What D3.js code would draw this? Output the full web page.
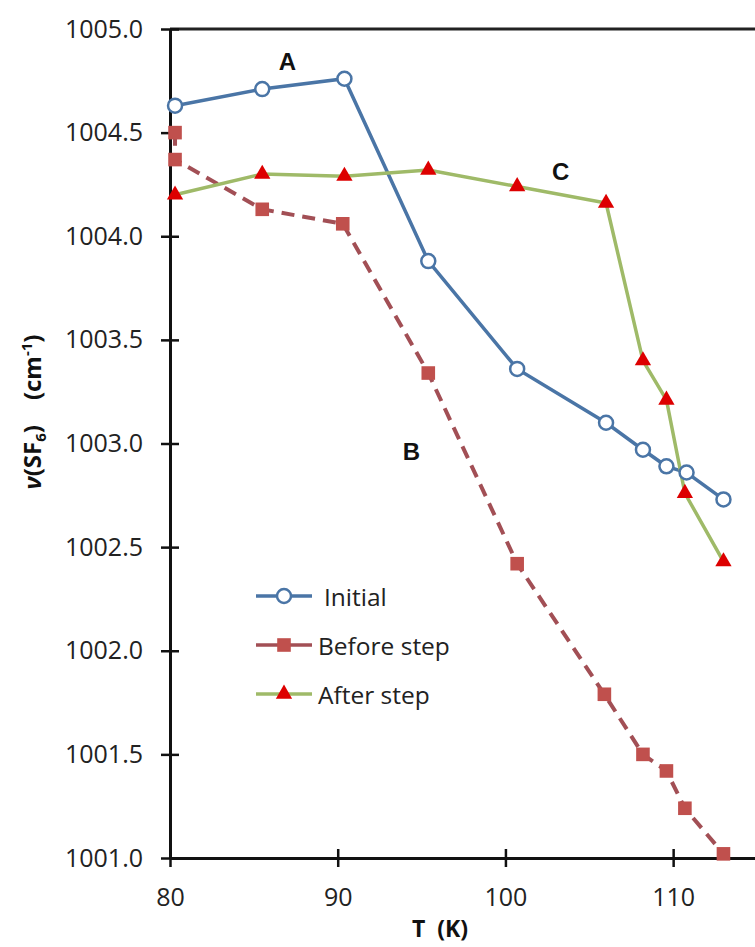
<!DOCTYPE html>
<html>
<head>
<meta charset="utf-8">
<script src="https://cdn.jsdelivr.net/npm/d3@7"></script>
<style>
  body { margin: 0; background: #fff; }
  svg { display: block; font-family: "Open Sans", "Noto Sans", sans-serif; }
</style>
</head>
<body>
<div id="chart"></div>
<script>
//========================
//   Data
//========================
var tInitial = [80.3, 85.5, 90.4, 95.4, 100.7, 106.0, 108.2, 109.6, 110.8, 113.0];
var vInitial = [1004.63, 1004.71, 1004.76, 1003.88, 1003.36, 1003.10, 1002.97, 1002.89, 1002.86, 1002.73];

var tBefore = [80.3, 80.3, 85.5, 90.3, 95.4, 100.7, 105.9, 108.2, 109.6, 110.7, 113.0];
var vBefore = [1004.50, 1004.37, 1004.13, 1004.06, 1003.34, 1002.42, 1001.79, 1001.50, 1001.42, 1001.24, 1001.02];

var tAfter = [80.3, 85.5, 90.4, 95.4, 100.7, 106.0, 108.2, 109.6, 110.7, 113.0];
var vAfter = [1004.20, 1004.30, 1004.29, 1004.32, 1004.24, 1004.16, 1003.40, 1003.21, 1002.76, 1002.43];

var xTicks = [80, 90, 100, 110];
var yTicks = [1001.0, 1001.5, 1002.0, 1002.5, 1003.0, 1003.5, 1004.0, 1004.5, 1005.0];

var seriesNames = ["Initial", "Before step", "After step"];

//========================
//   Canvas and scales
//========================
var width = 755, height = 947;

var svg = d3.select("#chart").append("svg")
  .attr("width", width)
  .attr("height", height);

var x = d3.scaleLinear().domain([80, 115]).range([170, 757]);
var y = d3.scaleLinear().domain([1001, 1005]).range([858, 29]);

//Frame top line
svg.append("line")
  .attr("x1", x(80)).attr("x2", width)
  .attr("y1", y(1005)).attr("y2", y(1005))
  .attr("stroke", "#222").attr("stroke-width", 3);

//Axes, ticks crossing the axis line
var yAxis = svg.append("g")
  .attr("transform", "translate(" + x(80) + ",0)")
  .call(d3.axisLeft(y).tickValues(yTicks).tickFormat(d3.format(".1f")).tickSize(0).tickPadding(27));
yAxis.select(".domain").attr("stroke", "#111").attr("stroke-width", 3);
yAxis.selectAll(".tick line").attr("x1", -9).attr("x2", 9).attr("stroke", "#111").attr("stroke-width", 2.5);
yAxis.selectAll(".tick text").attr("font-size", 25).attr("fill", "#222").attr("font-family", "Open Sans");

var xAxis = svg.append("g")
  .attr("transform", "translate(0," + y(1001) + ")")
  .call(d3.axisBottom(x).tickValues(xTicks).tickFormat(d3.format("d")).tickSize(0).tickPadding(30));
xAxis.select(".domain").attr("stroke", "#111").attr("stroke-width", 3);
xAxis.selectAll(".tick line").attr("y1", -9).attr("y2", 9).attr("stroke", "#111").attr("stroke-width", 2.5);
xAxis.selectAll(".tick text").attr("font-size", 25).attr("fill", "#222").attr("font-family", "Open Sans");

//Axis titles
svg.append("text")
  .attr("x", 440).attr("y", 937)
  .attr("text-anchor", "middle")
  .attr("font-size", 23).attr("font-weight", "bold").attr("fill", "#111")
  .attr("xml:space", "preserve")
  .text("T  (K)");

var yTitle = svg.append("text")
  .attr("transform", "translate(41,412) rotate(-90)")
  .attr("text-anchor", "middle")
  .attr("font-size", 24).attr("font-weight", "bold").attr("fill", "#111")
  .attr("xml:space", "preserve");
yTitle.append("tspan").attr("font-style", "italic").text("ν");
yTitle.append("tspan").text("(SF");
yTitle.append("tspan").attr("font-size", 15).attr("dy", 5).text("6");
yTitle.append("tspan").attr("dy", -5).text(")    (cm");
yTitle.append("tspan").attr("font-size", 15).attr("dy", -9).text("-1");
yTitle.append("tspan").attr("dy", 9).text(")");

//========================
//   Series
//========================
function pts(ts, vs) { return ts.map(function(t, i) { return [t, vs[i]]; }); }

var line = d3.line().x(function(d) { return x(d[0]); }).y(function(d) { return y(d[1]); });

var initial = pts(tInitial, vInitial);
var before = pts(tBefore, vBefore);
var after = pts(tAfter, vAfter);

var blue = "#4a75a6", red = "#c0504d", dashCol = "#a24f55", green = "#9fba68", triRed = "#dd0000";

svg.append("path").datum(initial).attr("d", line)
  .attr("fill", "none").attr("stroke", blue).attr("stroke-width", 3.5);
svg.append("path").datum(before).attr("d", line)
  .attr("fill", "none").attr("stroke", dashCol).attr("stroke-width", 4)
  .attr("stroke-dasharray", "13,8");
svg.append("path").datum(after).attr("d", line)
  .attr("fill", "none").attr("stroke", green).attr("stroke-width", 3.5);

var square = d3.symbol().type(d3.symbolSquare).size(185);
var triangle = d3.symbol().type(d3.symbolTriangle).size(115);

svg.selectAll(".sq").data(before).enter().append("path")
  .attr("transform", function(d) { return "translate(" + x(d[0]) + "," + y(d[1]) + ")"; })
  .attr("d", square).attr("fill", red);

svg.selectAll(".tri").data(after).enter().append("path")
  .attr("transform", function(d) { return "translate(" + x(d[0]) + "," + y(d[1]) + ")"; })
  .attr("d", triangle).attr("fill", triRed);

svg.selectAll(".circ").data(initial).enter().append("circle")
  .attr("cx", function(d) { return x(d[0]); })
  .attr("cy", function(d) { return y(d[1]); })
  .attr("r", 7)
  .attr("fill", "#fff").attr("stroke", blue).attr("stroke-width", 2.5);

//Curve labels
var labels = [["A", 87.0, 1004.80], ["B", 94.4, 1002.92], ["C", 103.3, 1004.27]];
svg.selectAll(".lbl").data(labels).enter().append("text")
  .attr("x", function(d) { return x(d[1]); })
  .attr("y", function(d) { return y(d[2]); })
  .attr("text-anchor", "middle")
  .attr("font-size", 24).attr("font-weight", "bold").attr("fill", "#111")
  .attr("font-family", "Liberation Sans, Arial, sans-serif")
  .text(function(d) { return d[0]; });

//========================
//   Legend
//========================
var legend = svg.append("g").attr("transform", "translate(256,596)");
var legendStyles = [
  { color: blue, dash: null, marker: "circle" },
  { color: dashCol, dash: null, marker: "square" },
  { color: green, dash: null, marker: "triangle" }
];
seriesNames.forEach(function(name, i) {
  var g = legend.append("g").attr("transform", "translate(0," + (i * 49) + ")");
  var s = legendStyles[i];
  g.append("line").attr("x1", 0).attr("x2", 56).attr("y1", 0).attr("y2", 0)
    .attr("stroke", s.color).attr("stroke-width", 3.5)
    .attr("stroke-dasharray", s.dash);
  if (s.marker == "circle") {
    g.append("circle").attr("cx", 28).attr("cy", 0).attr("r", 7)
      .attr("fill", "#fff").attr("stroke", blue).attr("stroke-width", 2.5);
  } else if (s.marker == "square") {
    g.append("path").attr("transform", "translate(28,0)").attr("d", square).attr("fill", red);
  } else {
    g.append("path").attr("transform", "translate(28,0)").attr("d", triangle).attr("fill", triRed);
  }
  g.append("text").attr("x", i == 0 ? 68 : 62).attr("y", 10)
    .attr("font-size", 24.5).attr("fill", "#222")
    .text(name);
});
</script>
</body>
</html>
